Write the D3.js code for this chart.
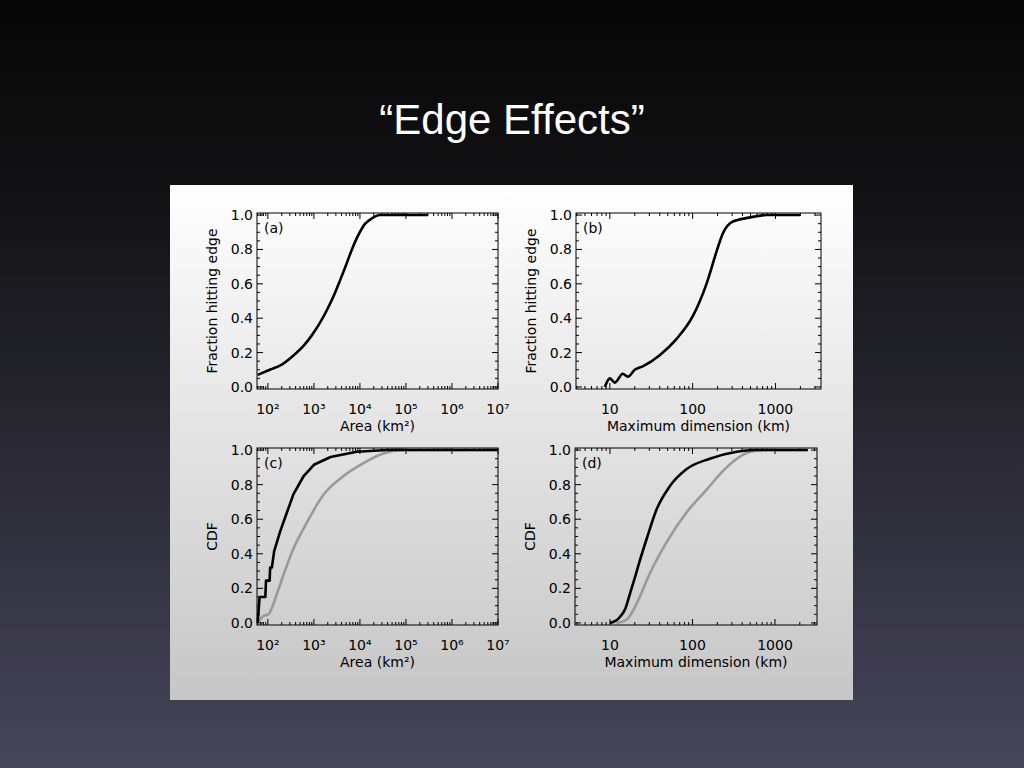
<!DOCTYPE html>
<html><head><meta charset="utf-8">
<script src="https://cdn.jsdelivr.net/npm/d3@7"></script>
<style>body{margin:0;overflow:hidden}</style>
</head><body>
<div id="chart-area"></div>
<script>
// data: [x, fraction]
const edgeArea = [[60,.07],[110,.10],[200,.13],[350,.18],[600,.24],[900,.3],[1700,.42],[2700,.53],[3700,.62],[5000,.71],[6700,.8],[9500,.89],[13000,.95],[18000,.98],[27000,1],[300000,1]];
const edgeDim = [[8.7,0],[10,.05],[11.5,.025],[14.3,.077],[16.5,.06],[20,.1],[25,.12],[40,.185],[64,.28],[100,.41],[147,.6],[195,.79],[230,.89],[300,.96],[480,.985],[780,1],[2000,1]];
const cdfAreaEdge = [[60,0],[66,.15],[88,.15],[91,.245],[109,.245],[112,.32],[122,.32],[137,.415],[185,.53],[260,.64],[360,.745],[600,.85],[1000,.915],[2300,.96],[8500,.99],[39000,1],[1e7,1]];
const cdfAreaAll = [[60,0],[80,.04],[103,.05],[158,.17],[220,.28],[360,.43],[700,.58],[1600,.74],[4400,.85],[12000,.925],[32000,.98],[89000,1],[1e7,1]];
const cdfDimEdge = [[10,0],[12,.015],[13.5,.04],[15.3,.08],[17.5,.17],[20,.26],[23,.36],[28,.49],[37,.66],[53,.79],[85,.89],[162,.95],[345,.99],[550,1],[2500,1]];
const cdfDimAll = [[12,0],[16,.02],[21,.11],[30,.28],[49,.47],[85,.64],[148,.77],[235,.88],[345,.95],[500,.99],[800,1],[2500,1]];
const yTicks = [0, 0.2, 0.4, 0.6, 0.8, 1.0];
const areaTicks = [1e2, 1e3, 1e4, 1e5, 1e6, 1e7];
const dimTicks = [10, 100, 1000];
const sup = {2:'²',3:'³',4:'⁴',5:'⁵',6:'⁶',7:'⁷'};

const svg = d3.select('#chart-area').append('svg').attr('width', 1024).attr('height', 768);
const defs = svg.append('defs');
const bg = defs.append('linearGradient').attr('id', 'bg').attr('x1', 0).attr('y1', 0).attr('x2', 0).attr('y2', 1);
bg.append('stop').attr('offset', '0%').attr('stop-color', '#060606');
bg.append('stop').attr('offset', '25%').attr('stop-color', '#121214');
bg.append('stop').attr('offset', '100%').attr('stop-color', '#47455a');
const pg = defs.append('linearGradient').attr('id', 'pg').attr('x1', 0).attr('y1', 0).attr('x2', 0).attr('y2', 1);
pg.append('stop').attr('offset', '0%').attr('stop-color', '#ffffff');
pg.append('stop').attr('offset', '100%').attr('stop-color', '#c6c6c6');

svg.append('rect').attr('width', 1024).attr('height', 768).attr('fill', 'url(#bg)');
svg.append('text').attr('x', 512).attr('y', 134).attr('text-anchor', 'middle')
  .attr('fill', '#fff').attr('font-family', 'Liberation Sans, Arial').attr('font-size', 42)
  .text('“Edge Effects”');
svg.append('rect').attr('x', 170).attr('y', 185).attr('width', 683).attr('height', 515).attr('fill', 'url(#pg)');

const font = 'DejaVu Sans, sans-serif';

function panel(o) {
  const g = svg.append('g').attr('transform', `translate(${o.x},${o.y})`);
  const w = o.w, h = o.h;
  const x = d3.scaleLog().domain(o.xd).range([0, w]);
  const y = d3.scaleLinear().domain([-0.012, 1.012]).range([h, 0]);
  g.append('rect').attr('width', w).attr('height', h).attr('fill', 'none').attr('stroke', '#000');

  // minor/major ticks inside, all four sides
  const lo = Math.floor(Math.log10(o.xd[0])), hi = Math.ceil(Math.log10(o.xd[1]));
  const xt = [];
  for (let e = lo; e <= hi; e++) for (let m = 1; m < 10; m++) {
    const v = m * Math.pow(10, e);
    if (v >= o.xd[0] && v <= o.xd[1]) xt.push([v, m === 1]);
  }
  xt.forEach(([v, major]) => {
    const px = x(v), L = major ? 6 : 3;
    g.append('line').attr('x1', px).attr('x2', px).attr('y1', h).attr('y2', h - L).attr('stroke', '#000');
    g.append('line').attr('x1', px).attr('x2', px).attr('y1', 0).attr('y2', L).attr('stroke', '#000');
  });
  d3.range(0, 21).forEach(i => {
    const v = i * 0.05, py = y(v), L = i % 4 === 0 ? 6 : 3;
    g.append('line').attr('x1', 0).attr('x2', L).attr('y1', py).attr('y2', py).attr('stroke', '#000');
    g.append('line').attr('x1', w).attr('x2', w - L).attr('y1', py).attr('y2', py).attr('stroke', '#000');
  });

  g.selectAll('.yl').data(yTicks).enter().append('text')
    .attr('x', -4).attr('y', d => y(d) + 5).attr('text-anchor', 'end')
    .attr('font-family', font).attr('font-size', 14).text(d => d.toFixed(1));
  g.selectAll('.xl').data(o.ticks).enter().append('text')
    .attr('x', d => x(d)).attr('y', h + 25).attr('text-anchor', 'middle')
    .attr('font-family', font).attr('font-size', 14)
    .text(d => o.area ? '10' + sup[Math.round(Math.log10(d))] : d);
  g.append('text').attr('x', w / 2).attr('y', h + 42).attr('text-anchor', 'middle')
    .attr('font-family', font).attr('font-size', 14).text(o.xlabel);
  g.append('text').attr('transform', `translate(${-40},${h / 2}) rotate(-90)`)
    .attr('text-anchor', 'middle').attr('font-family', font).attr('font-size', 14).text(o.ylabel);
  g.append('text').attr('x', 7).attr('y', 20).attr('font-family', font).attr('font-size', 14).text(o.tag);

  const line = d3.line().x(d => x(d[0])).y(d => y(d[1]));
  o.series.forEach(s => {
    g.append('path').datum(s.data).attr('d', line.curve(s.curve || d3.curveMonotoneX)).attr('fill', 'none')
      .attr('stroke', s.color).attr('stroke-width', 2.6).attr('stroke-linejoin', 'round');
  });
}

panel({x: 257, y: 213, w: 241, h: 176, xd: [58, 1e7], ticks: areaTicks, area: true,
  xlabel: 'Area (km²)', ylabel: 'Fraction hitting edge', tag: '(a)',
  series: [{data: edgeArea, color: '#000'}]});
panel({x: 576, y: 213, w: 245, h: 176, xd: [3.9, 3550], ticks: dimTicks,
  xlabel: 'Maximum dimension (km)', ylabel: 'Fraction hitting edge', tag: '(b)',
  series: [{data: edgeDim, color: '#000'}]});
panel({x: 257, y: 448, w: 241, h: 177, xd: [58, 1e7], ticks: areaTicks, area: true,
  xlabel: 'Area (km²)', ylabel: 'CDF', tag: '(c)',
  series: [{data: cdfAreaAll, color: '#999'}, {data: cdfAreaEdge, color: '#000', curve: d3.curveLinear}]});
panel({x: 575, y: 448, w: 242, h: 177, xd: [3.77, 3230], ticks: dimTicks,
  xlabel: 'Maximum dimension (km)', ylabel: 'CDF', tag: '(d)',
  series: [{data: cdfDimAll, color: '#999'}, {data: cdfDimEdge, color: '#000'}]});
</script>
</body></html>
